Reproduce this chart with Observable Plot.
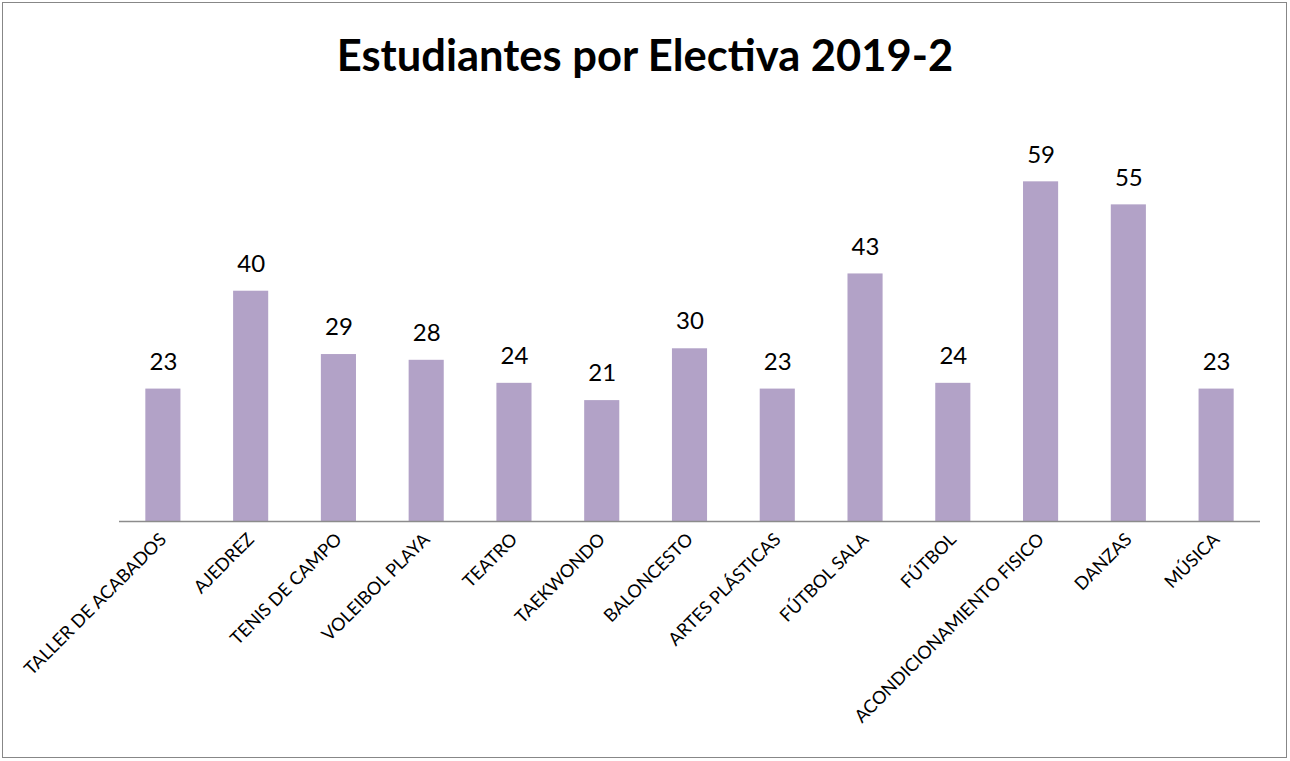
<!DOCTYPE html>
<html>
<head>
<meta charset="utf-8">
<script src="https://cdn.jsdelivr.net/npm/d3@7"></script>
<script src="https://cdn.jsdelivr.net/npm/@observablehq/plot@0.6"></script>
<style>
  html, body { margin: 0; padding: 0; background: #fff; }
  #wrap { position: relative; width: 1290px; height: 761px; overflow: hidden; font-family: Lato, "Open Sans", sans-serif; }
  #frame { position: absolute; left: 2px; top: 2px; width: 1283px; height: 754px; border: 1.5px solid #878787; }
  #title { position: absolute; left: 0; top: 33px; width: 1290px; text-align: center; font-weight: bold; font-size: 43.5px; line-height: 1; color: #000; }
  #chart { position: absolute; left: 0; top: 100px; }
</style>
</head>
<body>
<div id="wrap">
  <div id="frame"></div>
  <div id="title">Estudiantes por Electiva 2019-2</div>
  <div id="chart"></div>
</div>
<script>
const categories = [
  "TALLER DE ACABADOS", "AJEDREZ", "TENIS DE CAMPO", "VOLEIBOL PLAYA", "TEATRO",
  "TAEKWONDO", "BALONCESTO", "ARTES PLÁSTICAS", "FÚTBOL SALA", "FÚTBOL",
  "ACONDICIONAMIENTO FISICO", "DANZAS", "MÚSICA"
];
const values = [23, 40, 29, 28, 24, 21, 30, 23, 43, 24, 59, 55, 23];

const data = categories.map((c, i) => ({ electiva: c, estudiantes: values[i] }));

const chart = Plot.plot({
  width: 1290,
  height: 655,
  marginTop: 18,
  marginBottom: 234,
  marginLeft: 119,
  marginRight: 30,
  style: { fontFamily: "Lato, 'Open Sans', sans-serif", color: "#000", background: "transparent" },
  x: { domain: categories, paddingInner: 0.6, paddingOuter: 0.3, round: false, axis: null },
  y: { domain: [0, 70], axis: null },
  marks: [
    Plot.barY(data, { x: "electiva", y: "estudiantes", fill: "#b2a2c7" }),
    Plot.ruleY([0], { stroke: "#8c8c8c", strokeWidth: 1.5 }),
    Plot.text(data, { x: "electiva", y: "estudiantes", text: d => String(d.estudiantes), dy: -27, fontSize: 24, fill: "#000" }),
    Plot.axisX({ tickRotate: -45, tickSize: 0, tickPadding: 15, fontSize: 18, label: null, fill: "#000" })
  ]
});
document.getElementById("chart").appendChild(chart);
</script>
</body>
</html>
